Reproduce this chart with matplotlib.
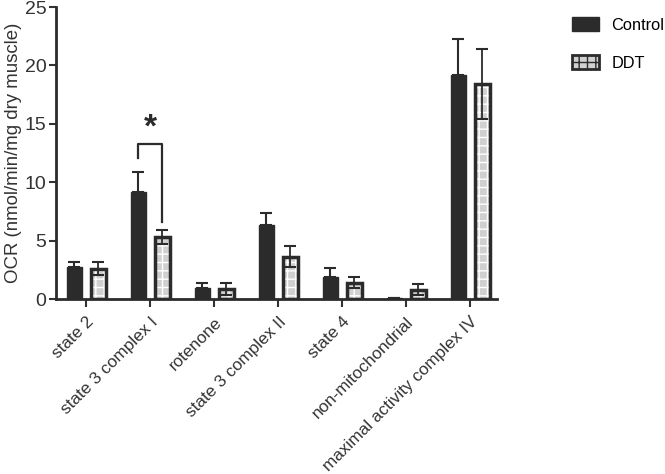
import numpy as np
import matplotlib
matplotlib.use("Agg")
import matplotlib.pyplot as plt
from matplotlib.patches import Patch

plt.rcParams['font.family'] = ['Liberation Sans', 'DejaVu Sans']

# data
categories = ["state 2", "state 3 complex I", "rotenone", "state 3 complex II",
              "state 4", "non-mitochondrial", "maximal activity complex IV"]
control = [2.7, 9.2, 0.9, 6.3, 1.9, 0.05, 19.2]
control_err = [0.5, 1.7, 0.45, 1.05, 0.75, 0.0, 3.1]
ddt = [2.6, 5.3, 0.85, 3.6, 1.4, 0.8, 18.4]
ddt_err = [0.55, 0.6, 0.5, 0.9, 0.45, 0.45, 3.0]

dark = '#2b2b2b'
txt = '#333333'

fig = plt.figure(figsize=(6.65, 4.74), dpi=100)
ax = fig.add_axes([56/665, 1-299/474, (497-56)/665, 292/474])

x = np.arange(len(categories))
w = 0.235
off = 0.1875

# control bars
ax.bar(x - off, control, w, color=dark, edgecolor=dark, linewidth=1, zorder=2)
ax.errorbar(x - off, control, yerr=[np.zeros(len(x)), control_err], fmt='none',
            ecolor=dark, elinewidth=1.5, capsize=4, capthick=1.5, zorder=1)

# DDT bars: checkered fill + dark outline
ax.bar(x + off, ddt, w, color='#d0d0d0', edgecolor='white', hatch='++',
       linewidth=0, zorder=2)
ax.errorbar(x + off, ddt, yerr=ddt_err, fmt='none',
            ecolor=dark, elinewidth=1.3, capsize=4, capthick=1.5, zorder=3)
ax.bar(x + off, ddt, w, fill=False, edgecolor=dark, linewidth=2.5, zorder=4)

# significance bracket
ax.plot([1 - off, 1 - off, 1 + off, 1 + off], [12.1, 13.3, 13.3, 6.6],
        color=dark, lw=1.6, zorder=5)
ax.text(1, 13.3, '*', ha='center', va='bottom', fontsize=24, fontweight='bold', color=dark)

ax.set_xlim(-0.47, 6.42)
ax.set_ylim(0, 25)
ax.set_yticks([0, 5, 10, 15, 20, 25])
ax.set_xticks(x)
ax.set_xticklabels(categories, rotation=45, ha='right', rotation_mode='anchor',
                   fontsize=12.3, color=txt)
ax.tick_params(axis='y', labelsize=14, colors=txt, width=1.5, length=5, pad=2)
ax.tick_params(axis='x', width=1.5, length=6, colors=txt, pad=5)
ax.set_ylabel('OCR (nmol/min/mg dry muscle)', fontsize=13.4, color=txt, labelpad=2)

for s in ['top', 'right']:
    ax.spines[s].set_visible(False)
for s in ['left', 'bottom']:
    ax.spines[s].set_linewidth(2)
    ax.spines[s].set_color(dark)

handles = [Patch(facecolor=dark, edgecolor=dark, label='Control'),
           Patch(facecolor='#d0d0d0', edgecolor=dark, hatch='++', linewidth=2, label='DDT')]
fig.legend(handles=handles, loc='upper left', bbox_to_anchor=(0.838, 0.995),
           frameon=False, fontsize=11.8, handlelength=1.65, handleheight=0.95,
           labelspacing=1.35, handletextpad=0.75)

fig.savefig('out.png', dpi=100)
